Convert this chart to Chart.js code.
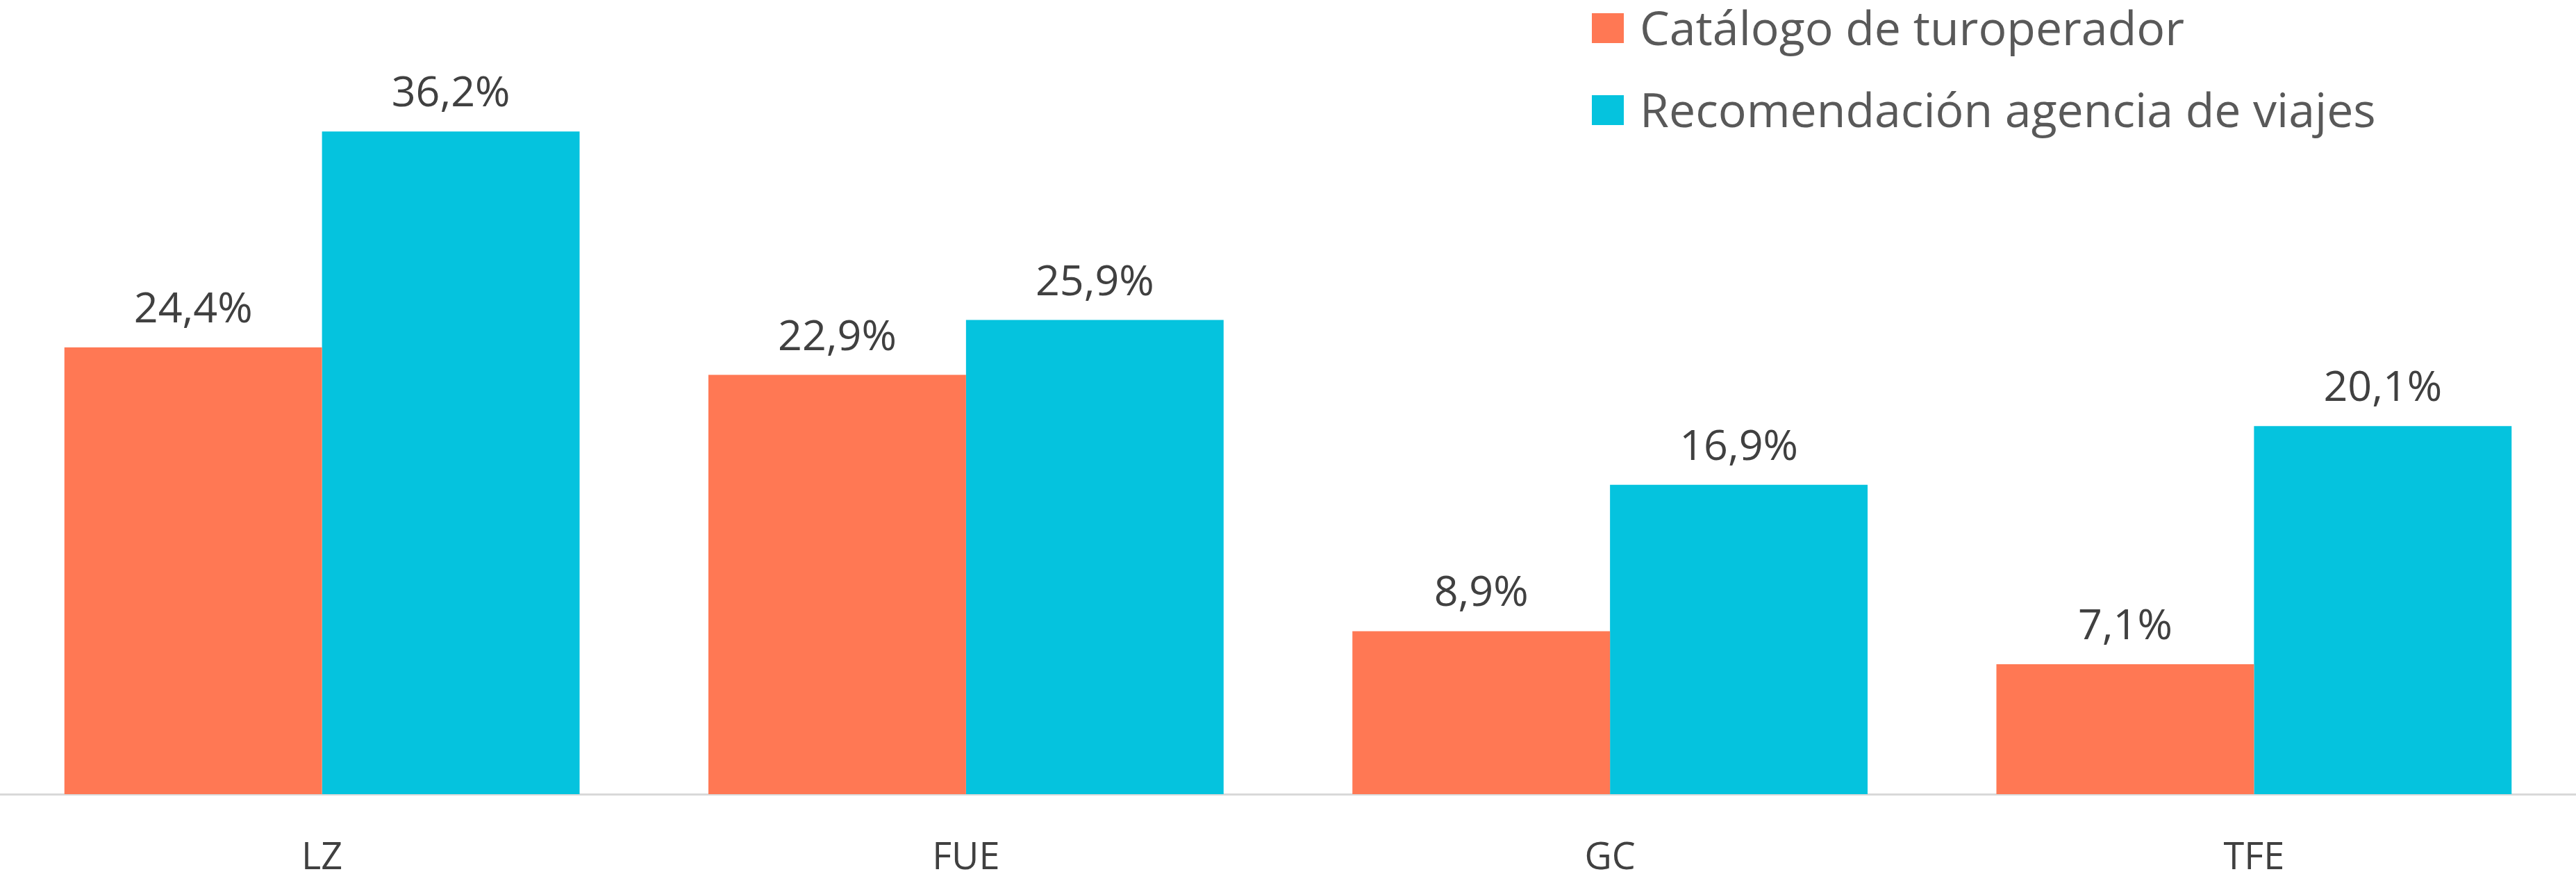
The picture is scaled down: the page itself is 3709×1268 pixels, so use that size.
<!DOCTYPE html>
<html>
<head>
<meta charset="utf-8">
<script src="https://cdn.jsdelivr.net/npm/chart.js@4.4.0/dist/chart.umd.min.js"></script>
<style>
  body { margin: 0; background: #fff; }
  #wrap { width: 3709px; height: 1268px; position: relative; }
</style>
</head>
<body>
<div id="wrap"><canvas id="chart"></canvas></div>
<script>
// Data
const islands = ['LZ', 'FUE', 'GC', 'TFE'];
const catalogo = [24.4, 22.9, 8.9, 7.1];
const recomendacion = [36.2, 25.9, 16.9, 20.1];
const seriesNames = ['Catálogo de turoperador', 'Recomendación agencia de viajes'];
const seriesColors = ['#FF7854', '#05C3DE'];

const fmt = v => v.toFixed(1).replace('.', ',') + '%';

// value labels above each bar
const valueLabels = {
    id: 'valueLabels',
    afterDatasetsDraw(chart) {
        const ctx = chart.ctx;
        ctx.save();
        ctx.font = '61px "Open Sans"';
        ctx.fillStyle = '#404040';
        ctx.textAlign = 'center';
        ctx.textBaseline = 'alphabetic';
        chart.data.datasets.forEach((ds, i) => {
            chart.getDatasetMeta(i).data.forEach((bar, j) => {
                ctx.fillText(fmt(ds.data[j]), bar.x, bar.y - 36);
            });
        });
        ctx.restore();
    }
};

// legend stacked in the top right corner
const sideLegend = {
    id: 'sideLegend',
    afterDraw(chart) {
        const ctx = chart.ctx;
        const baselines = [65, 183];
        ctx.save();
        ctx.font = '68px "Open Sans"';
        ctx.textBaseline = 'alphabetic';
        ctx.textAlign = 'left';
        chart.data.datasets.forEach((ds, i) => {
            ctx.fillStyle = ds.backgroundColor;
            ctx.fillRect(2292, baselines[i] - 46, 46, 43);
            ctx.fillStyle = '#595959';
            ctx.fillText(ds.label, 2361, baselines[i]);
        });
        ctx.restore();
    }
};

const ctx = document.getElementById('chart').getContext('2d');
const chart = new Chart(ctx, {
    type: 'bar',
    data: {
        labels: islands,
        datasets: [
            { label: seriesNames[0], data: catalogo, backgroundColor: seriesColors[0] },
            { label: seriesNames[1], data: recomendacion, backgroundColor: seriesColors[1] }
        ]
    },
    options: {
        responsive: true,
        maintainAspectRatio: false,
        animation: false,
        categoryPercentage: 0.8,
        barPercentage: 1.0,
        layout: { padding: { top: 89, bottom: 0, left: 0, right: 0 } },
        plugins: {
            legend: { display: false },
            tooltip: { enabled: false }
        },
        scales: {
            x: {
                grid: { display: false, drawTicks: false },
                border: { color: '#D9D9D9', width: 3 },
                ticks: {
                    color: '#404040',
                    font: { family: 'Open Sans', size: 54 },
                    padding: 60
                },
                afterFit(scale) {
                    scale.height = 125;
                }
            },
            y: {
                display: false,
                min: 0,
                max: 40
            }
        }
    },
    plugins: [valueLabels, sideLegend]
});
</script>
</body>
</html>
